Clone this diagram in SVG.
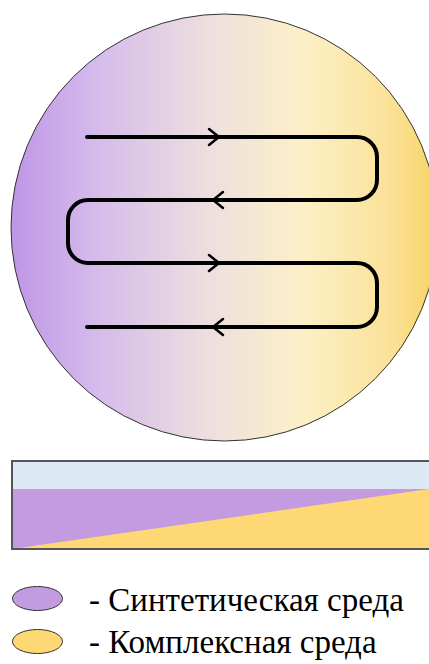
<svg xmlns="http://www.w3.org/2000/svg" width="429" height="664" viewBox="0 0 429 664">
<defs>
<linearGradient id="g" gradientUnits="userSpaceOnUse" x1="11" y1="0" x2="438" y2="0">
<stop offset="0" stop-color="#bf95e6"/>
<stop offset="0.2" stop-color="#d5bbec"/>
<stop offset="0.47" stop-color="#ede0dd"/>
<stop offset="0.68" stop-color="#fcf0c8"/>
<stop offset="0.88" stop-color="#fbe29a"/>
<stop offset="1" stop-color="#f7d465"/>
</linearGradient>
</defs>
<g id="dish">
<circle cx="224.5" cy="227.5" r="213.5" fill="url(#g)" stroke="#333" stroke-width="1"/>
</g>
<g id="connectors" fill="none" stroke="#000" stroke-linecap="round" stroke-linejoin="round">
<path stroke-width="4" d="M87 137 H357 A20 20 0 0 1 377 157 V180 A20 20 0 0 1 357 200 H88 A20 20 0 0 0 68 220 V243 A20 20 0 0 0 88 263 H357 A20 20 0 0 1 377 283 V307 A20 20 0 0 1 357 327 H87"/>
<g stroke-width="2.5">
<path d="M209 129 L219 137 L209 145"/>
<path d="M223 192 L213 200 L223 208"/>
<path d="M209 255 L219 263 L209 271"/>
<path d="M223 319 L213 327 L223 335"/>
</g>
</g>
<g id="bar">
<rect x="12" y="461" width="430" height="88" fill="#dce8f4"/>
<rect x="12" y="489" width="430" height="60" fill="#c49be0"/>
<polygon points="12,549 429,489 442,489 442,549" fill="#fdd874"/>
<rect x="12" y="461" width="430" height="88" fill="none" stroke="#555" stroke-width="2"/>
</g>
<g id="legend-synthetic">
<ellipse cx="37.5" cy="598.5" rx="25" ry="12" fill="#c39be0" stroke="#333" stroke-width="1"/>
<text x="89" y="611" font-family="Times New Roman" font-size="33">- Синтетическая среда</text>
</g>
<g id="legend-complex">
<ellipse cx="37.5" cy="641.5" rx="25" ry="12" fill="#fdd874" stroke="#333" stroke-width="1"/>
<text x="89" y="653" font-family="Times New Roman" font-size="33">- Комплексная среда</text>
</g>
</svg>
